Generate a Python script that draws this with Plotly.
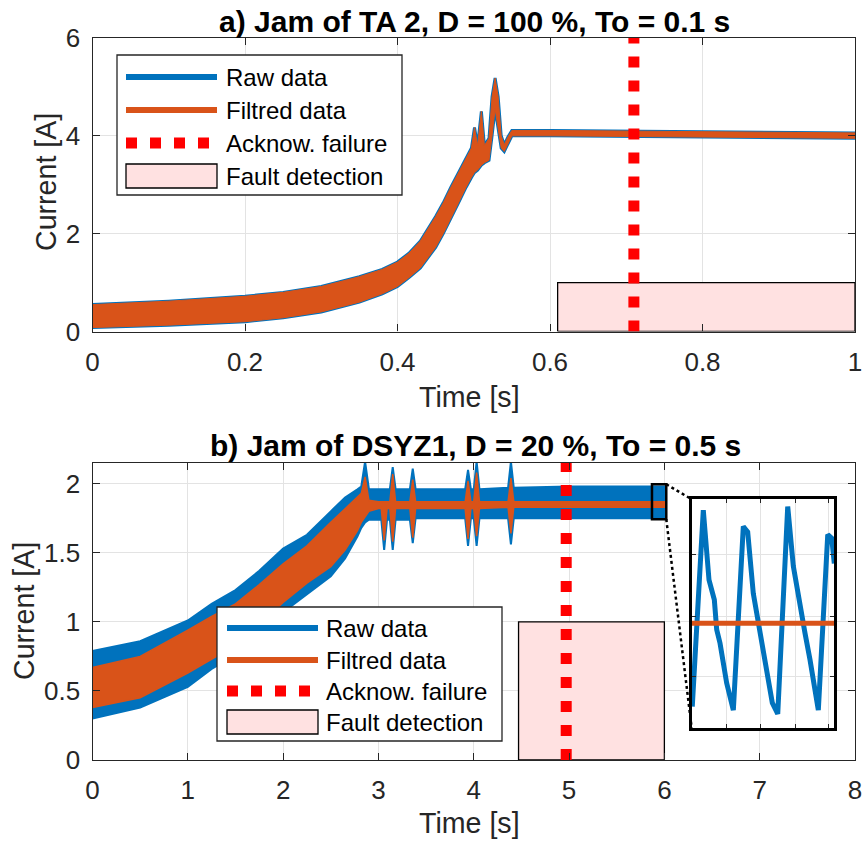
import plotly.graph_objects as go

# ---------------- data ----------------
# Panel a: envelope of the (raw / filtered) current band
a_t  = [0.00, 0.10, 0.20, 0.25, 0.30, 0.35, 0.38, 0.40, 0.415, 0.43, 0.45, 0.46, 0.47, 0.48, 0.49,
        0.497, 0.501, 0.505, 0.510, 0.514, 0.520, 0.524, 0.528, 0.532, 0.536, 0.540, 0.545, 0.550,
        0.60, 0.80, 1.00]
a_hi = [0.55, 0.62, 0.72, 0.80, 0.92, 1.12, 1.27, 1.42, 1.60, 1.85, 2.35, 2.63, 2.95, 3.25, 3.55,
        3.75, 4.17, 3.80, 4.50, 3.80, 3.95, 4.80, 5.18, 4.80, 4.00, 3.82, 3.98, 4.11,
        4.11, 4.09, 4.06]
a_lo = [0.08, 0.13, 0.20, 0.28, 0.40, 0.60, 0.77, 0.92, 1.10, 1.30, 1.72, 2.00, 2.30, 2.63, 2.95,
        3.15, 3.25, 3.30, 3.40, 3.45, 3.50, 4.00, 4.55, 4.20, 3.75, 3.68, 3.85, 4.00,
        4.00, 3.98, 3.95]
a_fault = [0.61, 1.00, 1.0]       # start, end, level
a_ack = 0.71
a_xticks = [0, 0.2, 0.4, 0.6, 0.8, 1]
a_xtext = ["0", "0.2", "0.4", "0.6", "0.8", "1"]
a_yticks = [0, 2, 4, 6]

# Panel b: raw (blue) and filtered (orange) envelopes
b_t = [0.00, 0.50, 1.00, 1.25, 1.50, 1.75, 2.00, 2.25, 2.50, 2.65, 2.78, 2.82, 2.86, 2.90, 3.00,
       3.03, 3.06, 3.09, 3.12, 3.15, 3.18, 3.33, 3.36, 3.39, 3.91, 3.94, 3.97, 4.00, 4.03, 4.06,
       4.36, 4.39, 4.42, 5.00, 5.50, 6.00]
b_raw_hi = [0.79, 0.86, 1.01, 1.13, 1.23, 1.37, 1.53, 1.63, 1.80, 1.90, 1.96, 1.98, 2.16, 1.96, 1.96,
            1.96, 1.96, 1.96, 1.96, 2.12, 1.96, 1.96, 2.11, 1.96, 1.96, 2.10, 1.96, 1.96, 2.16, 1.96,
            1.97, 2.16, 1.97, 1.98, 1.98, 1.98]
b_raw_lo = [0.30, 0.38, 0.53, 0.66, 0.76, 0.92, 1.07, 1.20, 1.33, 1.46, 1.62, 1.68, 1.72, 1.74, 1.74,
            1.74, 1.52, 1.74, 1.74, 1.52, 1.74, 1.74, 1.57, 1.75, 1.75, 1.55, 1.75, 1.75, 1.55, 1.75,
            1.75, 1.56, 1.75, 1.75, 1.75, 1.75]
b_flt_hi = [0.67, 0.75, 0.94, 1.04, 1.13, 1.27, 1.42, 1.55, 1.72, 1.82, 1.90, 1.93, 2.05, 1.88, 1.87,
            1.87, 1.87, 1.87, 1.87, 2.07, 1.87, 1.87, 2.03, 1.87, 1.87, 2.02, 1.87, 1.87, 2.08, 1.87,
            1.87, 2.04, 1.87, 1.87, 1.87, 1.87]
b_flt_lo = [0.38, 0.45, 0.63, 0.73, 0.83, 0.98, 1.14, 1.28, 1.40, 1.52, 1.66, 1.72, 1.76, 1.80, 1.82,
            1.82, 1.59, 1.82, 1.82, 1.58, 1.82, 1.82, 1.61, 1.82, 1.82, 1.60, 1.82, 1.82, 1.62, 1.82,
            1.83, 1.64, 1.83, 1.83, 1.83, 1.83]
b_fault = [4.47, 6.00, 1.0]
b_ack = 4.97
b_xticks = [0, 1, 2, 3, 4, 5, 6, 7, 8]
b_yticks = [0, 0.5, 1, 1.5, 2]
b_ytext = ["0", "0.5", "1", "1.5", "2"]

# Zoomed region (inset)
zoom_x = [5.87, 6.02]
zoom_y = [1.743, 1.996]
ins_t = [5.8706, 5.8822, 5.8882, 5.8938, 5.8963, 5.8998, 5.9068, 5.9138, 5.9243, 5.9289, 5.9348,
         5.9418, 5.9471, 5.9513, 5.9548, 5.9605, 5.9710, 5.9769, 5.9839, 5.9892, 5.9944, 6.0032,
         6.0131, 6.0173, 6.0200]
ins_raw = [1.767, 1.984, 1.907, 1.885, 1.852, 1.837, 1.793, 1.763, 1.966, 1.960, 1.892, 1.852,
           1.819, 1.796, 1.771, 1.759, 1.988, 1.922, 1.877, 1.848, 1.819, 1.763, 1.957, 1.953, 1.925]
ins_flt = [1.859, 1.859]
ins_xgrid = [5.9068, 5.9426, 5.9787, 6.0137]
ins_ygrid = [1.800, 1.866, 1.9345]

# ---------------- style ----------------
BLUE = "#0072BD"
ORANGE = "#D95319"
RED = "#FF0000"
PINK = "#FFE1E1"
AX = "#262626"
GRID = "#E3E3E3"
FONT = "Liberation Sans, Arial, sans-serif"
W, H = 862, 843


def px(x):
    return x / W


def py(y):
    return 1 - y / H


fig = go.Figure()


def band(t, hi, lo, color, lw, xa, ya):
    fig.add_trace(go.Scatter(x=list(t) + list(t)[::-1], y=list(hi) + list(lo)[::-1],
                             fill="toself", fillcolor=color, mode="lines",
                             line=dict(color=color, width=lw), xaxis=xa, yaxis=ya,
                             showlegend=False, hoverinfo="skip"))


def fault(f, xa, ya):
    fig.add_trace(go.Scatter(x=[f[0], f[0], f[1], f[1], f[0]], y=[0, f[2], f[2], 0, 0],
                             fill="toself", fillcolor=PINK, mode="lines",
                             line=dict(color="black", width=1.3), xaxis=xa, yaxis=ya,
                             showlegend=False, hoverinfo="skip"))


def ack(t, top, xa, ya):
    fig.add_trace(go.Scatter(x=[t, t], y=[0, top], mode="lines",
                             line=dict(color=RED, width=11, dash="11px,13px"),
                             xaxis=xa, yaxis=ya, showlegend=False, hoverinfo="skip"))


# panel a
band(a_t, a_hi, a_lo, BLUE, 3.0, "x", "y")
band(a_t, a_hi, a_lo, ORANGE, 1.0, "x", "y")
fault(a_fault, "x", "y")
ack(a_ack, 6, "x", "y")

# panel b
band(b_t, b_raw_hi, b_raw_lo, BLUE, 2.0, "x2", "y2")
band(b_t, b_flt_hi, b_flt_lo, ORANGE, 1.5, "x2", "y2")
fault(b_fault, "x2", "y2")
ack(b_ack, 2.15, "x2", "y2")

# inset
fig.add_trace(go.Scatter(x=ins_t, y=ins_raw, mode="lines", line=dict(color=BLUE, width=5),
                         xaxis="x3", yaxis="y3", showlegend=False, hoverinfo="skip"))
fig.add_trace(go.Scatter(x=zoom_x, y=ins_flt, mode="lines", line=dict(color=ORANGE, width=5),
                         xaxis="x3", yaxis="y3", showlegend=False, hoverinfo="skip"))

common = dict(showline=True, linecolor=AX, linewidth=1.3, mirror="ticks", ticks="inside",
              ticklen=7, tickwidth=1.3, tickcolor=AX, showgrid=True, gridcolor=GRID, gridwidth=1,
              zeroline=False, automargin=False, ticklabeloverflow="allow",
              tickfont=dict(family=FONT, size=26, color=AX))
inset_common = dict(showticklabels=False, showline=True, linecolor="black", linewidth=3,
                    mirror="ticks", ticks="inside", ticklen=4, tickcolor=AX, showgrid=True,
                    gridcolor=GRID, zeroline=False, automargin=False)

L, R = 92.5, 855
fig.update_layout(
    template="none",
    width=W, height=H, margin=dict(l=0, r=0, t=0, b=0, pad=0, autoexpand=False),
    paper_bgcolor="white", plot_bgcolor="white", showlegend=False,
    xaxis=dict(domain=[px(L), px(R)], range=[0, 1], anchor="y", tickvals=a_xticks, ticktext=a_xtext,
               ticklabelstandoff=7, **common),
    yaxis=dict(domain=[py(331.5), py(38)], range=[0, 6], anchor="x", tickvals=a_yticks,
               ticklabelstandoff=6, **common),
    xaxis2=dict(domain=[px(L), px(R)], range=[0, 8], anchor="y2", tickvals=b_xticks,
                ticklabelstandoff=7, **common),
    yaxis2=dict(domain=[py(760), py(463)], range=[0, 2.15], anchor="x2", tickvals=b_yticks,
                ticktext=b_ytext, ticklabelstandoff=6, **common),
    xaxis3=dict(domain=[px(691.7), px(834.3)], range=zoom_x, anchor="y3", tickvals=ins_xgrid,
                **inset_common),
    yaxis3=dict(domain=[py(728.3), py(499.3)], range=zoom_y, anchor="x3", tickvals=ins_ygrid,
                **inset_common),
)

shapes = []
# white background of inset
shapes.append(dict(type="rect", xref="x3", yref="y3", x0=zoom_x[0], x1=zoom_x[1], y0=zoom_y[0],
                   y1=zoom_y[1], fillcolor="white", line=dict(width=0), layer="below"))
# zoom rectangle on main panel b
shapes.append(dict(type="rect", xref="x2", yref="y2", x0=zoom_x[0], x1=zoom_x[1], y0=zoom_y[0],
                   y1=zoom_y[1], line=dict(color="black", width=2.5), layer="above"))


# connectors: inset corners expressed in panel-b data coordinates
def to_x2(ppx):
    return (ppx - L) / (R - L) * 8


def to_y2(ppy):
    return (760 - ppy) / (760 - 463) * 2.15


shapes.append(dict(type="line", xref="x2", yref="y2", x0=zoom_x[1], y0=zoom_y[1],
                   x1=to_x2(691.7), y1=to_y2(499.3), line=dict(color="black", width=2.5, dash="dot"),
                   layer="above"))
shapes.append(dict(type="line", xref="x2", yref="y2", x0=zoom_x[1], y0=zoom_y[0],
                   x1=to_x2(691.7), y1=to_y2(728.3), line=dict(color="black", width=2.5, dash="dot"),
                   layer="above"))

annotations = []


def legend(box, sx0, sx1, tx, ys, swatch_h):
    x0, y0, x1, y1 = box
    shapes.append(dict(type="rect", xref="paper", yref="paper", x0=px(x0), x1=px(x1), y0=py(y1),
                       y1=py(y0), fillcolor="white", line=dict(color=AX, width=1.3), layer="above"))
    specs = [("Raw data", dict(color=BLUE, width=6)),
             ("Filtred data", dict(color=ORANGE, width=6)),
             ("Acknow. failure", dict(color=RED, width=11, dash="11px,13px"))]
    for (name, ln), y in zip(specs, ys[:3]):
        shapes.append(dict(type="line", xref="paper", yref="paper", x0=px(sx0), x1=px(sx1),
                           y0=py(y), y1=py(y), line=ln, layer="above"))
    shapes.append(dict(type="rect", xref="paper", yref="paper", x0=px(sx0), x1=px(sx1),
                       y0=py(ys[3] + swatch_h / 2), y1=py(ys[3] - swatch_h / 2), fillcolor=PINK,
                       line=dict(color="black", width=1.3), layer="above"))
    for name, y in zip(["Raw data", "Filtred data", "Acknow. failure", "Fault detection"], ys):
        annotations.append(dict(text=name, xref="paper", yref="paper", x=px(tx), y=py(y),
                                xanchor="left", yanchor="middle", showarrow=False,
                                font=dict(family=FONT, size=24, color="black")))


legend((117, 55, 402, 195), 126, 217, 224, [77, 110, 143, 176], 24)
legend((217, 607, 502, 741), 227, 318, 324, [628, 660, 691, 722], 24)


def text(s, x, y, size, angle=0, bold=False, color=AX):
    annotations.append(dict(text=f"<b>{s}</b>" if bold else s, xref="paper", yref="paper",
                            x=px(x), y=py(y), xanchor="center", yanchor="middle", showarrow=False,
                            textangle=angle, font=dict(family=FONT, size=size, color=color)))


text("a) Jam of TA 2, D = 100 %, To = 0.1 s", 474, 21, 30, bold=True, color="black")
text("b) Jam of DSYZ1, D = 20 %, To = 0.5 s", 475, 446, 30, bold=True, color="black")
text("Time [s]", 470, 397, 28.6)
text("Time [s]", 470, 823, 28.6)
text("Current [A]", 46, 182, 28.6, angle=-90)
text("Current [A]", 24, 611, 28.6, angle=-90)

fig.update_layout(shapes=shapes, annotations=annotations)
fig.write_html("out.html")
